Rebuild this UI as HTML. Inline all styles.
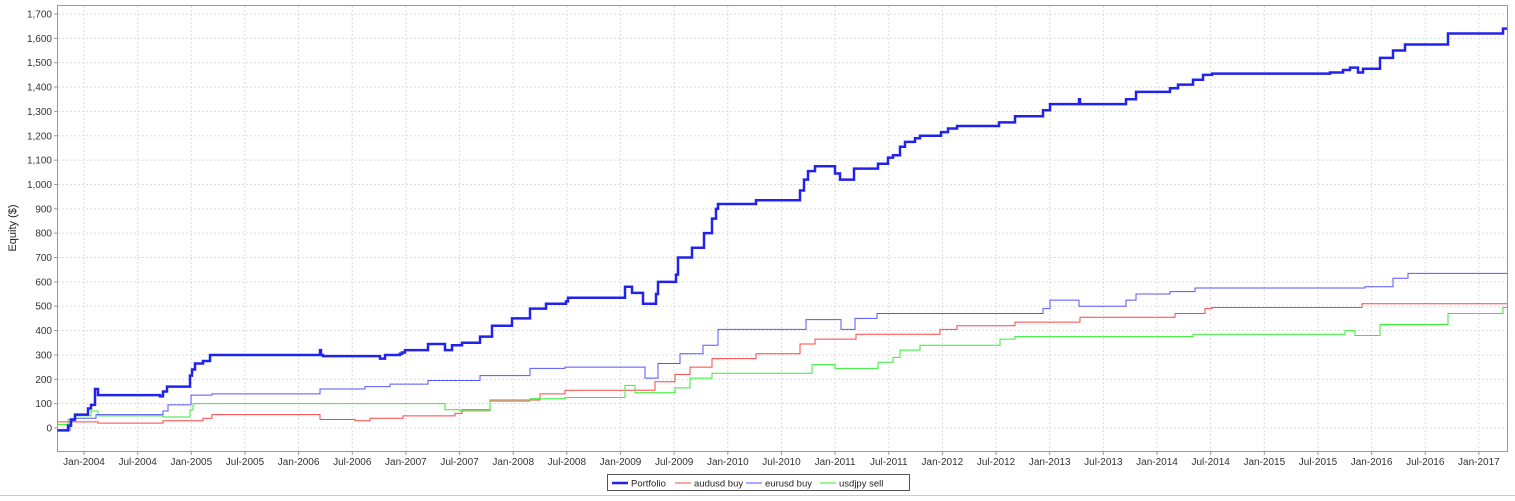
<!DOCTYPE html>
<html><head><meta charset="utf-8"><style>
body{margin:0;background:#fff;width:1515px;height:496px;overflow:hidden;font-family:"Liberation Sans",sans-serif}
</style></head><body>
<svg id="s" width="1515" height="496" xmlns="http://www.w3.org/2000/svg" font-family="Liberation Sans, sans-serif" font-size="10"></svg>
<script>
const s=document.getElementById('s');
const Y=v=>428-v*0.24353;
let h='';
h+='<rect x="57.5" y="5.5" width="1450" height="446" fill="#fff" stroke="#999"/>';
for(let v=0;v<=1700;v+=100){const y=Y(v);h+=`<line x1="58" x2="1507" y1="${y}" y2="${y}" stroke="#ddd" stroke-dasharray="2,2"/>`;
h+=`<line x1="54" x2="57" y1="${y}" y2="${y}" stroke="#999"/>`;
h+=`<text x="52" y="${y+3.5}" text-anchor="end" fill="#333">${v>=1000?Math.floor(v/1000)+','+String(v%1000).padStart(3,'0'):v}</text>`;}
const labs=[];for(let yr=2004;yr<=2017;yr++){labs.push('Jan-'+yr);if(yr<2017)labs.push('Jul-'+yr);}
labs.forEach((l,i)=>{const x=84+i*53.65;h+=`<line x1="${x}" x2="${x}" y1="6" y2="451" stroke="#ddd" stroke-dasharray="2,2"/><line x1="${x}" x2="${x}" y1="451" y2="455" stroke="#999"/><text x="${x}" y="465" text-anchor="middle" fill="#333">${l}</text>`;});
h+=`<text transform="translate(16,228) rotate(-90)" text-anchor="middle" font-size="11" fill="#222">Equity ($)</text>`;
function step(pts,col,w){let d=`M57.5,${Y(pts[0][1])}`;for(let i=1;i<pts.length;i++){d+=`H${pts[i][0]}V${Y(pts[i][1])}`;}d+='H1507';return `<path d="${d}" fill="none" stroke="${col}" stroke-width="${w}"/>`;}
const red=[[57,25],[98,20],[163,30],[203,40],[212,55],[320,35],[355,30],[370,40],[403,50],[455,60],[462,75],[490,115],[540,140],[565,155],[655,190],[675,220],[690,250],[712,285],[756,305],[800,345],[815,365],[856,385],[940,405],[957,420],[1015,435],[1080,455],[1175,470],[1205,490],[1212,495],[1362,510]];
const grn=[[57,15],[68,35],[75,50],[91,70],[98,50],[163,45],[190,75],[193,100],[445,75],[460,70],[490,110],[530,120],[565,125],[625,175],[635,145],[675,165],[690,205],[712,225],[812,260],[835,245],[878,270],[893,290],[900,320],[920,340],[1000,365],[1015,375],[1193,385],[1345,400],[1355,380],[1380,425],[1448,470],[1503,495]];
const blu=[[57,-10],[70,30],[75,40],[96,55],[163,70],[168,95],[191,135],[212,140],[320,160],[365,170],[390,180],[428,195],[480,215],[530,245],[565,250],[645,205],[658,265],[680,305],[703,340],[718,405],[806,445],[841,405],[855,450],[877,470],[1043,490],[1050,525],[1079,500],[1126,525],[1136,550],[1170,560],[1195,575],[1365,580],[1393,615],[1408,635]];
const pf=[[57,-10],[68,10],[71,35],[75,55],[88,80],[91,95],[95,160],[98,135],[160,130],[163,150],[167,170],[190,215],[192,240],[195,265],[203,275],[210,300],[320,320],[321,300],[323,295],[380,285],[385,300],[400,305],[402,310],[405,320],[428,345],[445,320],[452,340],[462,350],[480,375],[492,420],[512,450],[530,490],[546,510],[566,520],[568,535],[625,580],[632,555],[643,510],[656,550],[658,600],[676,630],[678,700],[692,740],[704,800],[712,860],[716,900],[718,920],[756,935],[800,975],[804,1020],[808,1055],[815,1075],[835,1045],[840,1020],[854,1065],[878,1085],[888,1110],[893,1120],[900,1155],[905,1175],[915,1190],[920,1200],[941,1215],[948,1230],[957,1240],[999,1255],[1015,1280],[1043,1305],[1050,1330],[1079,1350],[1080,1330],[1126,1350],[1136,1380],[1170,1395],[1178,1410],[1193,1430],[1203,1450],[1212,1455],[1330,1460],[1343,1470],[1350,1480],[1358,1460],[1363,1475],[1380,1520],[1393,1550],[1405,1575],[1448,1620],[1503,1640]];
h+=step(red,'#ff4444',1)+step(grn,'#33ee33',1)+step(blu,'#5555ff',1)+step(pf,'#2222ee',2.5);
h+='<rect x="607.5" y="474.5" width="302" height="16" fill="#fff" stroke="#555"/>';
const lg=[['Portfolio','#2222ee',2.5,612],['audusd buy','#ff4444',1,675],['eurusd buy','#5555ff',1,746],['usdjpy sell','#33ee33',1,820]];
lg.forEach(([t,c,w,x])=>{h+=`<line x1="${x}" x2="${x+16}" y1="483" y2="483" stroke="${c}" stroke-width="${w}"/><text x="${x+19}" y="486.5" font-size="9.5" fill="#222">${t}</text>`;});
h+='<line x1="0" x2="1515" y1="495.5" y2="495.5" stroke="#ccc"/>';
s.innerHTML=h;
</script>
</body></html>
